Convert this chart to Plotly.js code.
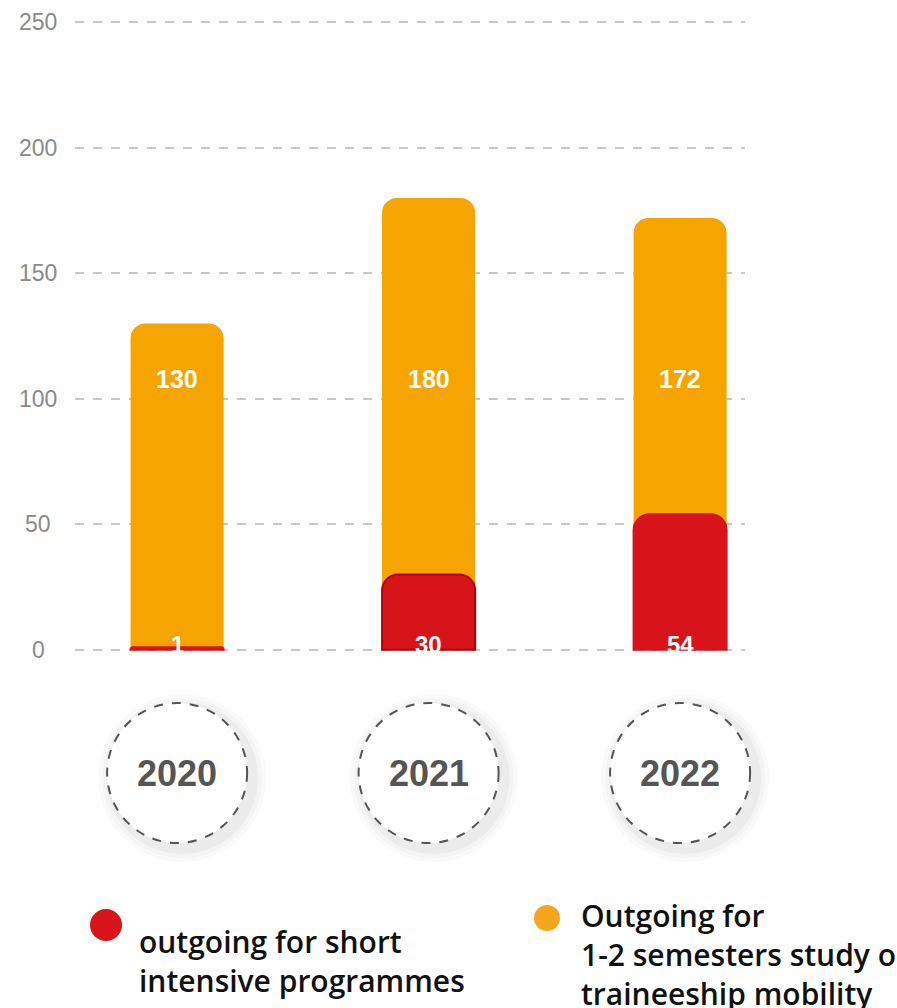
<!DOCTYPE html>
<html>
<head>
<meta charset="utf-8">
<script src="https://cdn.plot.ly/plotly-3.0.1.min.js"></script>
<style>html,body{margin:0;padding:0;background:#fff;}#chart{width:897px;height:1008px;}</style>
</head>
<body>
<div id="chart"></div>
<script>
// ---- data ----
var years = ['2020', '2021', '2022'];
var longMobility = [130, 180, 172];   // Outgoing for 1-2 semesters study or traineeship mobility
var shortProgrammes = [1, 30, 54];    // outgoing for short intensive programmes
var seriesNames = ['outgoing for short<br>intensive programmes', 'Outgoing for<br>1-2 semesters study or<br>traineeship mobility'];
var yTicks = [0, 50, 100, 150, 200, 250];

// ---- styles ----
var ORANGE = '#F5A400';
var RED = '#D7141A';
var BAR_W = 0.37;
var XR = [-0.406, 2.258];
function xPaper(i){ return (i - XR[0]) / (XR[1] - XR[0]); }
function pxY(py){ return (651 - py) / 630; }   // page pixel row -> paper y
function pxX(px){ return (px - 75) / 670; }    // page pixel col -> paper x

var traces = [
  {
    type: 'bar', x: years, y: longMobility, width: BAR_W, xaxis: 'x', yaxis: 'y',
    marker: {color: ORANGE, cornerradius: 15},
    hoverinfo: 'skip', showlegend: false
  },
  {
    type: 'bar', x: years, y: shortProgrammes, width: BAR_W, xaxis: 'x2', yaxis: 'y',
    marker: {color: RED, cornerradius: 16,
      line: {width: 2, color: years.map(function(y, i){ return i === 1 ? '#B80000' : RED; })}},
    hoverinfo: 'skip', showlegend: false
  }
];

var annotations = [];
var shapes = [];

// y tick labels centred left of the plot
yTicks.forEach(function(v){
  annotations.push({xref: 'paper', yref: 'y', x: pxX(38), y: v, text: String(v),
    showarrow: false, xanchor: 'center', yanchor: 'middle',
    font: {family: 'Liberation Sans, Arial, sans-serif', size: 23, color: '#8a8a8a'}});
});

// value labels
longMobility.forEach(function(v, i){
  annotations.push({xref: 'paper', yref: 'paper', x: xPaper(i), y: pxY(379), text: '<b>' + v + '</b>',
    showarrow: false, xanchor: 'center', yanchor: 'middle',
    font: {family: 'Liberation Sans, Arial, sans-serif', size: 25, color: '#ffffff'}});
});
shortProgrammes.forEach(function(v, i){
  annotations.push({xref: 'paper', yref: 'paper', x: xPaper(i), y: pxY(644), text: '<b>' + v + '</b>',
    showarrow: false, xanchor: 'center', yanchor: 'middle',
    font: {family: 'Liberation Sans, Arial, sans-serif', size: 24, color: '#ffffff'}});
});

// year circles
var CYP = 773, R = 70;
years.forEach(function(yr, i){
  var cx = 75 + xPaper(i) * 670;
  var shadowSteps = [[14, 0.018], [10, 0.022], [6, 0.03]];
  shadowSteps.forEach(function(s){
    shapes.push({type: 'circle', xref: 'paper', yref: 'paper',
      x0: pxX(cx - R - s[0] + 5), x1: pxX(cx + R + s[0] + 5),
      y0: pxY(CYP + R + s[0] + 5), y1: pxY(CYP - R - s[0] + 5),
      fillcolor: 'rgba(0,0,0,' + s[1] + ')', line: {width: 0}, layer: 'below'});
  });
  shapes.push({type: 'circle', xref: 'paper', yref: 'paper',
    x0: pxX(cx - R), x1: pxX(cx + R), y0: pxY(CYP + R), y1: pxY(CYP - R),
    fillcolor: '#ffffff', line: {color: '#555555', width: 2, dash: 'dash'}, layer: 'above'});
  annotations.push({xref: 'paper', yref: 'paper', x: xPaper(i), y: pxY(CYP), text: '<b>' + yr + '</b>',
    showarrow: false, xanchor: 'center', yanchor: 'middle',
    font: {family: 'Liberation Sans, Arial, sans-serif', size: 36, color: '#555555'}});
});

// legend (custom)
var legendFont = {family: 'Open Sans, Noto Sans, sans-serif', size: 30, color: '#111111', weight: 600};
shapes.push({type: 'circle', xref: 'paper', yref: 'paper',
  x0: pxX(90), x1: pxX(122), y0: pxY(941), y1: pxY(909),
  fillcolor: RED, line: {width: 0}});
shapes.push({type: 'circle', xref: 'paper', yref: 'paper',
  x0: pxX(534), x1: pxX(560), y0: pxY(931), y1: pxY(905),
  fillcolor: '#F7A51C', line: {width: 0}});
var legendBlocks = [{x: 137, y: 961}, {x: 579, y: 954}];
seriesNames.forEach(function(name, k){
  annotations.push({xref: 'paper', yref: 'paper', x: pxX(legendBlocks[k].x), y: pxY(legendBlocks[k].y),
    text: name, showarrow: false, xanchor: 'left', yanchor: 'middle', align: 'left',
    font: legendFont});
});

var xCommon = {type: 'category', range: XR, showgrid: false, zeroline: false,
  showline: false, showticklabels: false, ticks: '', fixedrange: true};
var layout = {
  width: 897, height: 1008,
  margin: {l: 75, r: 152, t: 21, b: 357},
  paper_bgcolor: '#ffffff', plot_bgcolor: '#ffffff',
  barmode: 'overlay',
  showlegend: false,
  xaxis: xCommon,
  xaxis2: Object.assign({}, xCommon, {overlaying: 'x', matches: 'x'}),
  yaxis: {range: [-0.5, 250.5], tickvals: yTicks, showticklabels: false, showgrid: true,
    gridcolor: '#c8c8c8', gridwidth: 2, griddash: 'dash', zeroline: false,
    showline: false, ticks: '', fixedrange: true},
  annotations: annotations,
  shapes: shapes
};

Plotly.newPlot('chart', traces, layout, {displayModeBar: false, staticPlot: true});
</script>
</body>
</html>
